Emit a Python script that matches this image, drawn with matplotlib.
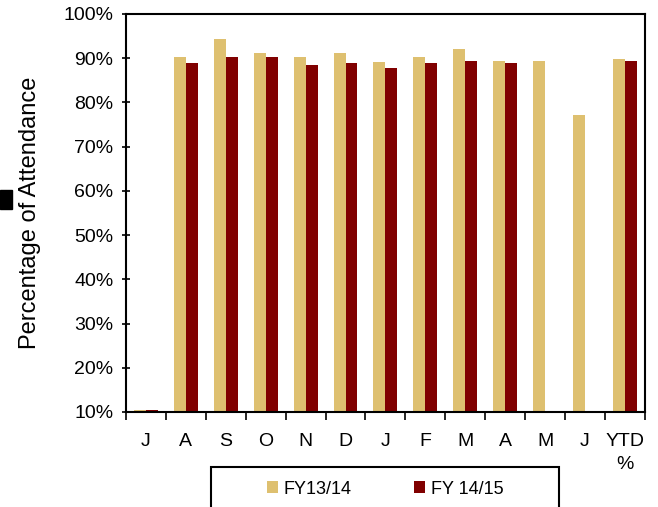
import matplotlib.pyplot as plt
import matplotlib.patches as patches
import numpy as np

months = ['J', 'A', 'S', 'O', 'N', 'D', 'J', 'F', 'M', 'A', 'M', 'J', 'YTD\n%']
fy1314 = [10.5, 90.2, 94.3, 91.1, 90.2, 91.1, 89.2, 90.2, 92.1, 89.3, 89.3, 77.2, 89.8]
fy1415 = [10.5, 88.9, 90.2, 90.2, 88.5, 88.9, 87.8, 88.9, 89.3, 88.9, np.nan, np.nan, 89.3]

gold = '#DEC070'
red = '#800000'

plt.rcParams['font.family'] = ['Liberation Sans', 'DejaVu Sans']

fig = plt.figure(figsize=(6.58, 5.07), dpi=100)
ax = fig.add_axes([0.1915, 0.1874, 0.7885, 0.785])

x = np.arange(len(months))
w = 0.3
ax.bar(x - w / 2, fy1314, w, color=gold, label='FY13/14')
ax.bar(x + w / 2, fy1415, w, color=red, label='FY 14/15')

ax.set_xlim(-0.5, len(months) - 0.5)
ax.set_ylim(10, 100)
ax.set_yticks(range(10, 101, 10))
ax.set_yticklabels(['%d%%' % v for v in range(10, 101, 10)], fontsize=14)
ax.set_xticks(x)
ax.set_xticklabels(months, fontsize=14, linespacing=1.45)
ax.set_xticks(np.arange(-0.5, len(months)), minor=True)
ax.tick_params(axis='x', which='major', length=0, pad=15)
ax.tick_params(axis='x', which='minor', length=6, width=1.2, direction='out')
ax.tick_params(axis='y', length=6, width=1.2, direction='inout', pad=6)
for s in ax.spines.values():
    s.set_linewidth(1.5)
ax.set_ylabel('Percentage of Attendance', fontsize=17, labelpad=16)

# legend box running off the bottom of the picture
fig.patches.append(patches.Rectangle((211 / 658, -0.05), 348 / 658, 0.05 + 40 / 507,
                                     transform=fig.transFigure, fill=False,
                                     edgecolor='black', linewidth=1.5))
fig.legend(loc='center', bbox_to_anchor=(385 / 658, 1 - 489 / 507), ncol=2,
           frameon=False, fontsize=13, handlelength=0.6, handleheight=0.6,
           handletextpad=0.3, columnspacing=3.5)

# small black block at the left edge
fig.patches.append(patches.Rectangle((0, 298 / 507), 12 / 658, 19 / 507,
                                     transform=fig.transFigure, color='black'))

fig.savefig('out.png', dpi=100)
